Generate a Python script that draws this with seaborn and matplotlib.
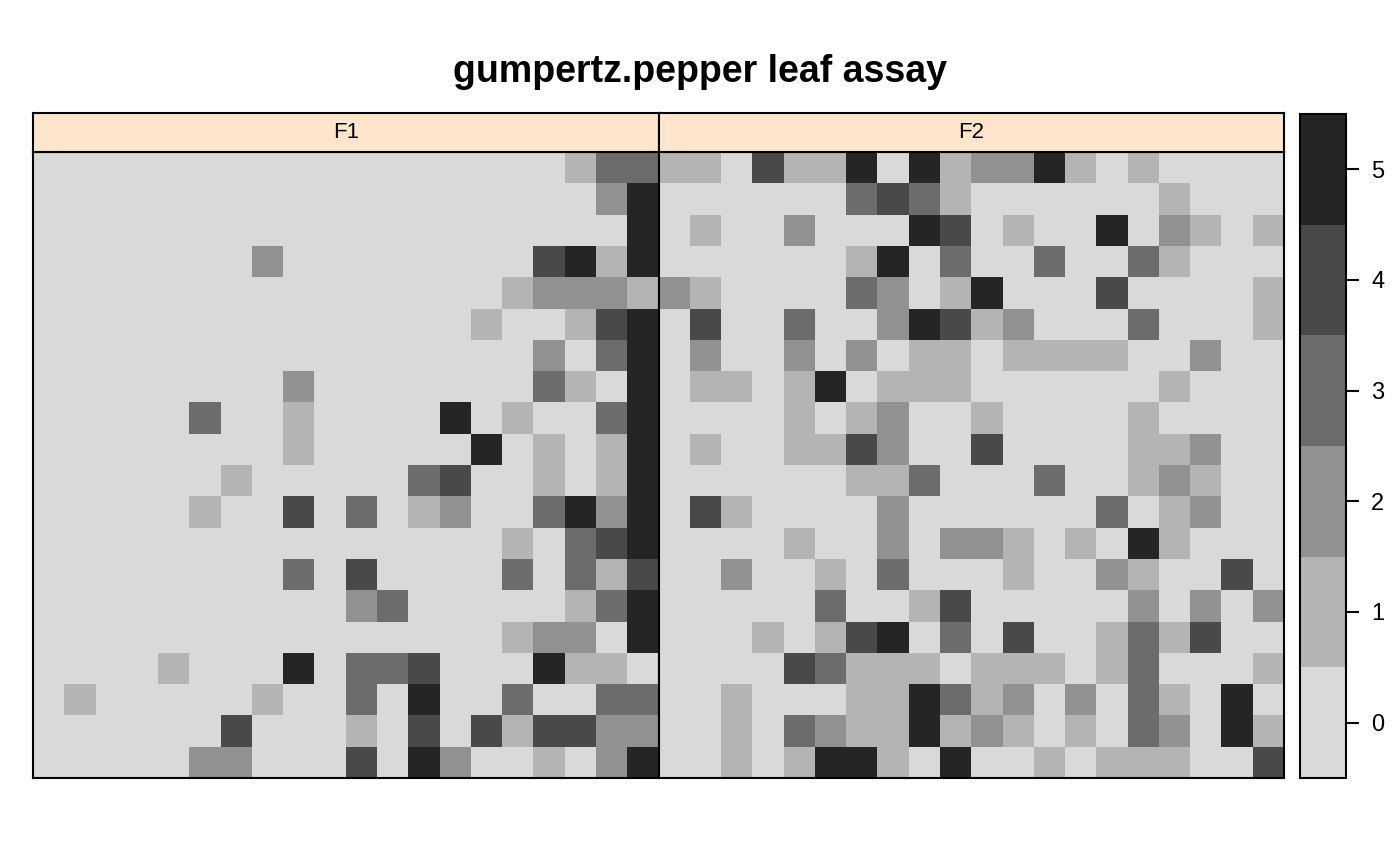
import numpy as np
import matplotlib
matplotlib.use("Agg")
import matplotlib.pyplot as plt
from matplotlib.colors import ListedColormap
import seaborn as sns

# rows listed top to bottom, 20 columns left to right
f1 = [
    [0, 0, 0, 0, 0, 0, 0, 0, 0, 0, 0, 0, 0, 0, 0, 0, 0, 1, 3, 3],
    [0, 0, 0, 0, 0, 0, 0, 0, 0, 0, 0, 0, 0, 0, 0, 0, 0, 0, 2, 5],
    [0, 0, 0, 0, 0, 0, 0, 0, 0, 0, 0, 0, 0, 0, 0, 0, 0, 0, 0, 5],
    [0, 0, 0, 0, 0, 0, 0, 2, 0, 0, 0, 0, 0, 0, 0, 0, 4, 5, 1, 5],
    [0, 0, 0, 0, 0, 0, 0, 0, 0, 0, 0, 0, 0, 0, 0, 1, 2, 2, 2, 1],
    [0, 0, 0, 0, 0, 0, 0, 0, 0, 0, 0, 0, 0, 0, 1, 0, 0, 1, 4, 5],
    [0, 0, 0, 0, 0, 0, 0, 0, 0, 0, 0, 0, 0, 0, 0, 0, 2, 0, 3, 5],
    [0, 0, 0, 0, 0, 0, 0, 0, 2, 0, 0, 0, 0, 0, 0, 0, 3, 1, 0, 5],
    [0, 0, 0, 0, 0, 3, 0, 0, 1, 0, 0, 0, 0, 5, 0, 1, 0, 0, 3, 5],
    [0, 0, 0, 0, 0, 0, 0, 0, 1, 0, 0, 0, 0, 0, 5, 0, 1, 0, 1, 5],
    [0, 0, 0, 0, 0, 0, 1, 0, 0, 0, 0, 0, 3, 4, 0, 0, 1, 0, 1, 5],
    [0, 0, 0, 0, 0, 1, 0, 0, 4, 0, 3, 0, 1, 2, 0, 0, 3, 5, 2, 5],
    [0, 0, 0, 0, 0, 0, 0, 0, 0, 0, 0, 0, 0, 0, 0, 1, 0, 3, 4, 5],
    [0, 0, 0, 0, 0, 0, 0, 0, 3, 0, 4, 0, 0, 0, 0, 3, 0, 3, 1, 4],
    [0, 0, 0, 0, 0, 0, 0, 0, 0, 0, 2, 3, 0, 0, 0, 0, 0, 1, 3, 5],
    [0, 0, 0, 0, 0, 0, 0, 0, 0, 0, 0, 0, 0, 0, 0, 1, 2, 2, 0, 5],
    [0, 0, 0, 0, 1, 0, 0, 0, 5, 0, 3, 3, 4, 0, 0, 0, 5, 1, 1, 0],
    [0, 1, 0, 0, 0, 0, 0, 1, 0, 0, 3, 0, 5, 0, 0, 3, 0, 0, 3, 3],
    [0, 0, 0, 0, 0, 0, 4, 0, 0, 0, 1, 0, 4, 0, 4, 1, 4, 4, 2, 2],
    [0, 0, 0, 0, 0, 2, 2, 0, 0, 0, 4, 0, 5, 2, 0, 0, 1, 0, 2, 5],
]

f2 = [
    [1, 1, 0, 4, 1, 1, 5, 0, 5, 1, 2, 2, 5, 1, 0, 1, 0, 0, 0, 0],
    [0, 0, 0, 0, 0, 0, 3, 4, 3, 1, 0, 0, 0, 0, 0, 0, 1, 0, 0, 0],
    [0, 1, 0, 0, 2, 0, 0, 0, 5, 4, 0, 1, 0, 0, 5, 0, 2, 1, 0, 1],
    [0, 0, 0, 0, 0, 0, 1, 5, 0, 3, 0, 0, 3, 0, 0, 3, 1, 0, 0, 0],
    [2, 1, 0, 0, 0, 0, 3, 2, 0, 1, 5, 0, 0, 0, 4, 0, 0, 0, 0, 1],
    [0, 4, 0, 0, 3, 0, 0, 2, 5, 4, 1, 2, 0, 0, 0, 3, 0, 0, 0, 1],
    [0, 2, 0, 0, 2, 0, 2, 0, 1, 1, 0, 1, 1, 1, 1, 0, 0, 2, 0, 0],
    [0, 1, 1, 0, 1, 5, 0, 1, 1, 1, 0, 0, 0, 0, 0, 0, 1, 0, 0, 0],
    [0, 0, 0, 0, 1, 0, 1, 2, 0, 0, 1, 0, 0, 0, 0, 1, 0, 0, 0, 0],
    [0, 1, 0, 0, 1, 1, 4, 2, 0, 0, 4, 0, 0, 0, 0, 1, 1, 2, 0, 0],
    [0, 0, 0, 0, 0, 0, 1, 1, 3, 0, 0, 0, 3, 0, 0, 1, 2, 1, 0, 0],
    [0, 4, 1, 0, 0, 0, 0, 2, 0, 0, 0, 0, 0, 0, 3, 0, 1, 2, 0, 0],
    [0, 0, 0, 0, 1, 0, 0, 2, 0, 2, 2, 1, 0, 1, 0, 5, 1, 0, 0, 0],
    [0, 0, 2, 0, 0, 1, 0, 3, 0, 0, 0, 1, 0, 0, 2, 1, 0, 0, 4, 0],
    [0, 0, 0, 0, 0, 3, 0, 0, 1, 4, 0, 0, 0, 0, 0, 2, 0, 2, 0, 2],
    [0, 0, 0, 1, 0, 1, 4, 5, 0, 3, 0, 4, 0, 0, 1, 3, 1, 4, 0, 0],
    [0, 0, 0, 0, 4, 3, 1, 1, 1, 0, 1, 1, 1, 0, 1, 3, 0, 0, 0, 1],
    [0, 0, 1, 0, 0, 0, 1, 1, 5, 3, 1, 2, 0, 2, 0, 3, 1, 0, 5, 0],
    [0, 0, 1, 0, 3, 2, 1, 1, 5, 1, 2, 1, 0, 1, 0, 3, 2, 0, 5, 1],
    [0, 0, 1, 0, 1, 5, 5, 1, 0, 5, 0, 0, 1, 0, 1, 1, 1, 0, 0, 4],
]

panel_names = ["F1", "F2"]
levels = [0, 1, 2, 3, 4, 5]
level_colors = ["#D9D9D9", "#B4B4B4", "#919191", "#6C6C6C", "#494949", "#252525"]
title = "gumpertz.pepper leaf assay"

sns.set_style("white")
plt.rcParams["font.family"] = ["Liberation Sans", "DejaVu Sans"]
plt.rcParams["text.color"] = "black"
plt.rcParams["ytick.color"] = "black"
plt.rcParams["xtick.color"] = "black"

W, H = 1400, 866
fig = plt.figure(figsize=(W / 100, H / 100), dpi=100)

def fx(px):
    return px / W

def fy(py):
    return 1 - py / H

lw = 1.5
cmap = ListedColormap(level_colors)
panel_left = 33
panel_w = 625.5
panel_top, panel_bot = 152, 778
strip_top = 113

cax = fig.add_axes([fx(1300), fy(778), fx(46), fy(114) - fy(778)])

for i, (name, data) in enumerate(zip(panel_names, [f1, f2])):
    x0 = panel_left + i * panel_w
    ax = fig.add_axes([fx(x0), fy(panel_bot), fx(panel_w), fy(panel_top) - fy(panel_bot)])
    sns.heatmap(np.array(data), ax=ax, cmap=cmap, vmin=-0.5, vmax=5.5,
                cbar=(i == 0), cbar_ax=cax if i == 0 else None,
                xticklabels=False, yticklabels=False, linewidths=0)
    for sp in ax.spines.values():
        sp.set_visible(True)
        sp.set_color("black")
        sp.set_linewidth(lw)
    ax.tick_params(length=0)

    sax = fig.add_axes([fx(x0), fy(panel_top), fx(panel_w), fy(strip_top) - fy(panel_top)])
    sax.set_facecolor("#FFE5CC")
    sax.set_xticks([])
    sax.set_yticks([])
    for sp in sax.spines.values():
        sp.set_visible(True)
        sp.set_color("black")
        sp.set_linewidth(lw)
    sax.text(0.5, 0.5, name, ha="center", va="center", fontsize=16, color="black",
             transform=sax.transAxes)

cbar = fig.axes[1].collections[0].colorbar
cbar.set_ticks(levels)
cbar.outline.set_visible(True)
cbar.outline.set_linewidth(lw)
cbar.outline.set_edgecolor("black")
cax.tick_params(axis="y", right=True, length=9, width=lw, labelsize=17, pad=9,
                direction="out", colors="black")

fig.text(0.5, fy(72), title, ha="center", va="center", fontsize=27,
         fontweight="bold", color="black")

fig.savefig("out.png", dpi=100, facecolor="white")
